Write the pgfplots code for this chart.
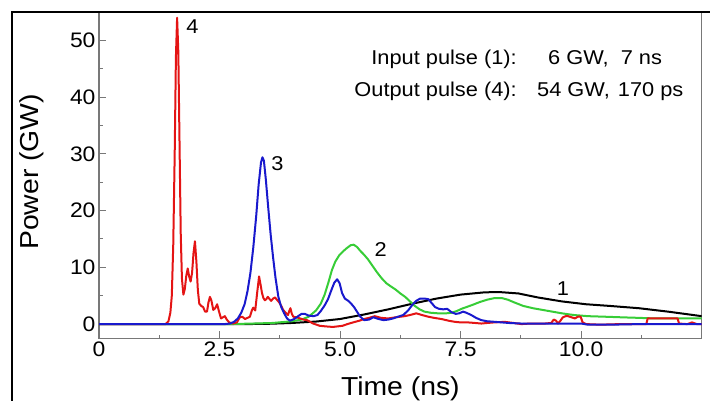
\documentclass[border=0pt]{standalone}
\usepackage{fontspec}
\setmainfont{Liberation Sans}[FakeStretch=1.09]
\usepackage{pgfplots}
\pgfplotsset{compat=1.18}
\definecolor{cRed}{RGB}{228,20,20}
\definecolor{cBlue}{RGB}{25,25,205}
\definecolor{cGreen}{RGB}{55,205,55}
\definecolor{axgray}{RGB}{120,120,120}

\begin{document}
\begin{tikzpicture}[x=1pt,y=1pt]
\path[use as bounding box] (0,0) rectangle (710,401);
\begin{axis}[
    at={(99pt,62.7pt)}, anchor=south west,
    scale only axis, width=602.7pt, height=326.3pt,
    xmin=0, xmax=12.5, ymin=-2.5, ymax=55,
    xtick={0,2.5,5,7.5,10},
    xticklabels={0,2.5,5.0,7.5,10.0},
    minor xtick={1.25,3.75,6.25,8.75,11.25},
    ytick={0,10,20,30,40,50},
    minor ytick={5,15,25,35,45},
    xtick pos=bottom, ytick pos=left,
    tick align=inside,
    major tick length=7pt, minor tick length=3.5pt,
    axis line style={axgray, line width=1.2pt},
    every tick/.style={axgray, line width=1pt},
    /pgf/number format/assume math mode=true,
    tick label style={font=\fontsize{21}{24}\selectfont, black},
    xlabel={Time (ns)}, ylabel={Power (GW)},
    label style={font=\fontsize{26}{30}\selectfont},
    xlabel style={at={(axis description cs:0.5,-0.174)}, anchor=base},
    ylabel style={at={(axis description cs:-0.111,0.51)}, anchor=center},
    every axis plot/.append style={line width=2pt, line join=round},
    clip=true,
]

% 1: input pulse
\addplot[black] coordinates {
(0,0) (3.0,0) (3.5,0.05) (4.0,0.2) (4.5,0.45) (5.0,0.9) (5.5,1.7) (6.0,2.6)
(6.5,3.6) (7.0,4.5) (7.5,5.2) (8.0,5.6) (8.3,5.65) (8.7,5.4) (9.1,4.7)
(9.6,4.0) (10.1,3.5) (10.6,3.2) (11.2,2.8) (11.8,2.2) (12.5,1.4)
};

% 2
\addplot[cGreen] coordinates {
(0,0) (2.7,0) (3.2,0.1) (3.6,0.2) (4.0,0.5) (4.2,0.8) (4.35,1.3) (4.5,2.4)
(4.6,3.6) (4.68,5.2) (4.76,7.4) (4.83,9.5) (4.9,11.0) (4.98,12.1) (5.06,12.8)
(5.14,13.4) (5.22,13.9) (5.28,14.0) (5.35,13.6) (5.42,12.9) (5.5,12.2)
(5.58,11.4) (5.67,10.3) (5.76,9.2) (5.86,8.1) (5.96,7.2) (6.06,6.6) (6.15,6.1)
(6.25,5.4) (6.35,4.8) (6.45,4.0) (6.55,3.2) (6.65,2.6) (6.75,2.2) (6.88,2.0)
(7.03,1.9) (7.2,1.9) (7.31,2.0) (7.42,2.3) (7.52,2.7) (7.62,3.0) (7.75,3.4)
(7.9,3.9) (8.05,4.3) (8.21,4.6) (8.35,4.6) (8.48,4.3) (8.62,3.8) (8.8,3.2)
(9.0,2.8) (9.2,2.5) (9.4,2.2) (9.6,1.9) (9.85,1.6) (10.14,1.4) (10.5,1.3)
(10.83,1.2) (11.2,1.1) (11.52,1.0) (12.0,1.0) (12.5,1.0)
};

% 4: output pulse
\addplot[cRed] coordinates {
(0,0) (1.38,0) (1.44,0.5) (1.48,2) (1.51,5) (1.54,14) (1.57,30) (1.595,47)
(1.62,54) (1.645,48) (1.67,32) (1.695,16) (1.72,8) (1.75,5.2) (1.78,6.2)
(1.81,8.5) (1.84,9.8) (1.87,8.4) (1.90,7.5) (1.93,9) (1.96,12.5) (1.99,14.6)
(2.02,11) (2.05,6) (2.08,3.6) (2.12,3.2) (2.16,3.0) (2.20,2.2) (2.24,2.2)
(2.27,3.8) (2.30,4.8) (2.33,4.2) (2.37,2.5) (2.41,2.8) (2.45,3.5) (2.49,2.2)
(2.53,1.0) (2.57,1.2) (2.61,1.4) (2.65,0.8) (2.70,0.3) (2.78,0.1) (2.86,0.3)
(2.92,1.2) (2.97,1.3) (3.03,0.9) (3.08,1.1) (3.13,1.3) (3.17,2.4) (3.20,2.9)
(3.24,2.4) (3.28,5.5) (3.32,8.4) (3.35,7) (3.38,5.5) (3.41,4.6) (3.44,4.2)
(3.47,4.4) (3.50,4.8) (3.54,4.4) (3.57,4.1) (3.61,4.5) (3.65,4.7) (3.69,4.3)
(3.74,3.8) (3.78,3.2) (3.82,2.5) (3.87,2.0) (3.92,1.6) (3.95,2.4) (3.97,2.8)
(4.00,1.8) (4.03,1.3) (4.10,1.2) (4.17,1.0) (4.24,0.8) (4.31,0.7) (4.38,0.4)
(4.44,0.1) (4.51,-0.1) (4.58,-0.3) (4.7,-0.4) (4.85,-0.5) (4.95,-0.4)
(5.05,-0.3) (5.15,0) (5.27,0.3) (5.4,0.6) (5.5,0.9) (5.6,1.1) (5.72,1.4)
(5.85,1.1) (6.0,1.0) (6.15,1.2) (6.34,1.4) (6.45,1.6) (6.58,1.9) (6.7,1.6)
(6.83,1.3) (6.95,1.1) (7.1,0.9) (7.25,0.6) (7.38,0.4) (7.5,0.3) (7.65,0.3)
(7.8,0.2) (7.93,0.1) (8.05,0.2) (8.2,0.3) (8.41,0.4) (8.6,0.2) (8.76,0)
(8.95,0.1) (9.1,0.1) (9.25,0.1) (9.38,0.2) (9.43,0.8) (9.48,0.6) (9.52,0.1)
(9.57,0.6) (9.62,1.2) (9.68,1.4) (9.73,1.4) (9.80,1.2) (9.87,1.0) (9.93,1.3)
(9.99,1.3) (10.03,0.3) (10.1,0) (10.4,-0.1) (10.8,0) (11.1,0) (11.35,0)
(11.38,1.0) (11.6,1.0) (11.8,1.0) (12.0,1.0) (12.03,0.1) (12.2,0) (12.3,0.3)
(12.4,0) (12.5,0)
};

% 3
\addplot[cBlue] coordinates {
(0,0) (2.6,0) (2.72,0.1) (2.8,0.4) (2.88,1.0) (2.95,2.0) (3.02,3.5) (3.08,5.8)
(3.14,9) (3.20,13.5) (3.26,19) (3.31,24.5) (3.36,28.5) (3.39,29.4) (3.42,28.8)
(3.46,25.5) (3.51,20.5) (3.56,15.8) (3.61,11.8) (3.66,8.2) (3.72,4.8)
(3.78,3.0) (3.84,1.9) (3.90,1.0) (3.96,0.6) (4.05,0.9) (4.13,1.4) (4.2,1.8)
(4.27,1.8) (4.35,1.5) (4.45,1.4) (4.53,1.6) (4.6,2.3) (4.68,3.3) (4.75,4.4)
(4.82,6.0) (4.88,7.3) (4.94,7.9) (4.99,7.2) (5.04,5.5) (5.1,4.5) (5.17,4.1)
(5.23,3.6) (5.29,3.0) (5.35,2.2) (5.42,1.3) (5.5,0.7) (5.6,0.8) (5.69,1.2)
(5.8,0.9) (5.9,0.7) (6.0,0.8) (6.1,1.0) (6.2,1.3) (6.31,1.6) (6.41,2.4)
(6.5,3.4) (6.58,4.1) (6.66,4.5) (6.75,4.5) (6.83,4.4) (6.9,3.7) (6.97,3.0)
(7.05,2.7) (7.14,2.6) (7.22,2.7) (7.31,2.1) (7.4,1.8) (7.47,1.9) (7.55,2.2)
(7.62,2.0) (7.72,1.6) (7.82,1.1) (7.93,0.7) (8.05,0.5) (8.21,0.4) (8.5,0.2)
(8.76,0.1) (9.2,0.1) (9.6,0.1) (10.0,0.1) (10.14,-0.1) (10.6,-0.1) (11.2,0)
(12.5,0)
};

\node[font=\fontsize{20}{22}\selectfont] at (axis cs:1.94,52.5) {4};
\node[font=\fontsize{20}{22}\selectfont] at (axis cs:3.70,28.2) {3};
\node[font=\fontsize{20}{22}\selectfont] at (axis cs:5.84,13.2) {2};
\node[font=\fontsize{20}{22}\selectfont] at (axis cs:9.62,6.2) {1};
\end{axis}

\begin{scope}[every node/.style={inner sep=0pt, font=\fontsize{20}{22}\selectfont}]
\node[anchor=base east] at (517,336) {Input pulse (1):};
\node[anchor=base west] at (548,336) {6 GW,\hspace{12pt}7 ns};
\node[anchor=base east] at (517,304.3) {Output pulse (4):};
\node[anchor=base west] at (537,304.3) {54 GW,\hspace{8pt}170 ps};
\end{scope}

% outer frame
\draw[black, line width=2.4pt] (12,0) -- (12,389) -- (710,389);
\end{tikzpicture}
\end{document}
